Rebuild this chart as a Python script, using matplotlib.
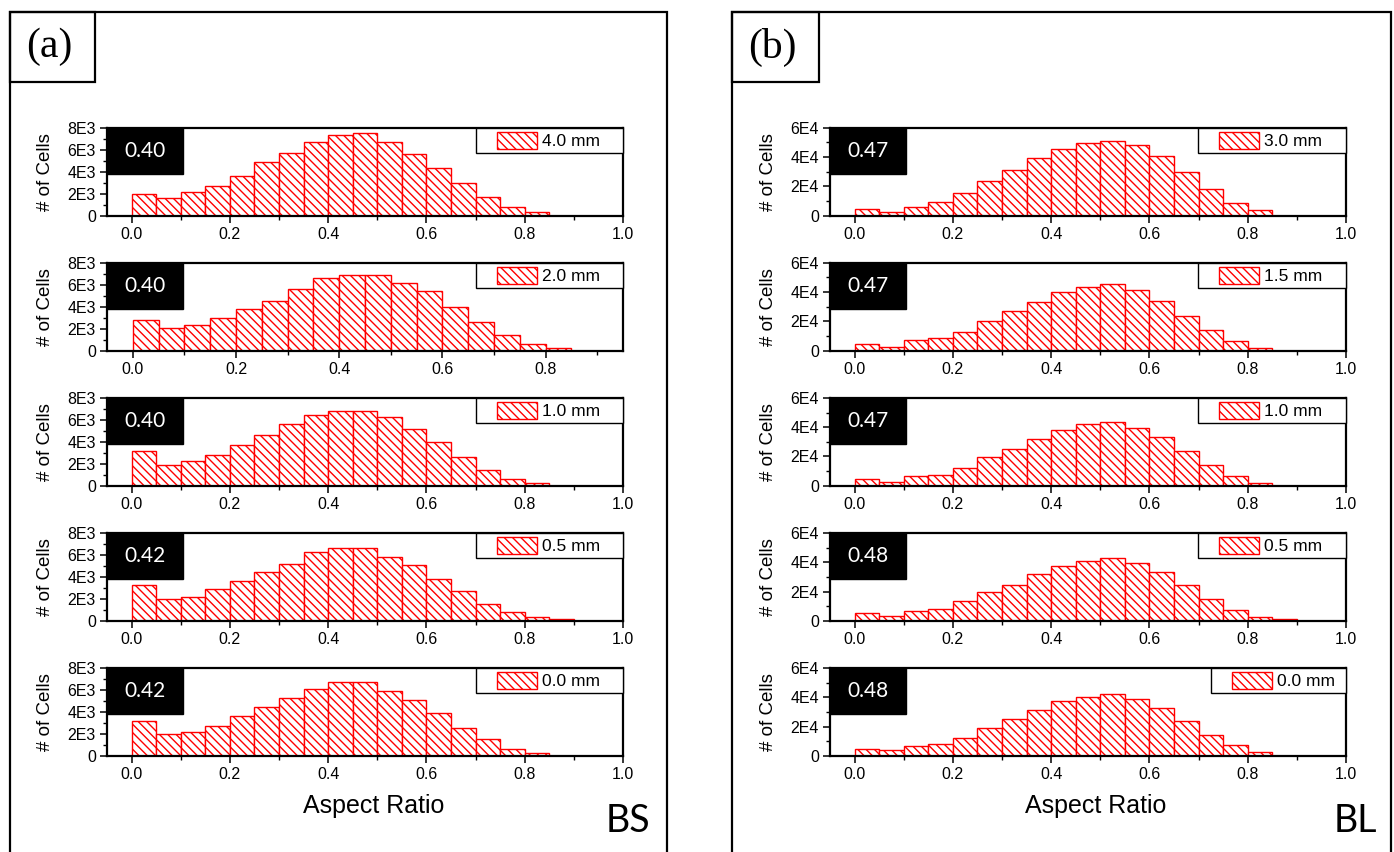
import matplotlib.pyplot as plt
import numpy as np
from matplotlib import font_manager
from matplotlib.patches import Rectangle
from matplotlib.container import BarContainer
from matplotlib.legend_handler import HandlerPatch, update_from_first_child

# bin left edges of the aspect ratio histograms (width 0.05)
bin_starts = [0.00, 0.05, 0.10, 0.15, 0.20, 0.25, 0.30, 0.35, 0.40,
              0.45, 0.50, 0.55, 0.60, 0.65, 0.70, 0.75, 0.80, 0.85]

# panel (a) BS
bs_labels = ['4.0 mm', '2.0 mm', '1.0 mm', '0.5 mm', '0.0 mm']
bs_means = ['0.40', '0.40', '0.40', '0.42', '0.42']
bs_4_0 = [1950, 1600, 2100, 2670, 3620, 4920, 5740, 6700, 7350, 7520, 6700, 5600, 4340, 3000, 1710, 750, 300]
bs_2_0 = [2760, 2080, 2330, 2980, 3810, 4560, 5610, 6570, 6910, 6910, 6140, 5400, 3940, 2640, 1460, 590, 220]
bs_1_0 = [3190, 1890, 2230, 2760, 3720, 4590, 5640, 6450, 6820, 6820, 6290, 5180, 3940, 2640, 1460, 620, 250]
bs_0_5 = [3240, 1980, 2160, 2930, 3610, 4440, 5190, 6270, 6670, 6670, 5830, 5060, 3770, 2750, 1510, 770, 340, 150]
bs_0_0 = [3160, 1960, 2180, 2700, 3680, 4420, 5280, 6130, 6750, 6750, 5890, 5060, 3870, 2580, 1530, 670, 250]
bs_yticks = [0, 2000, 4000, 6000, 8000]
bs_yticklabels = ['0', '2E3', '4E3', '6E3', '8E3']

# panel (b) BL
bl_labels = ['3.0 mm', '1.5 mm', '1.0 mm', '0.5 mm', '0.0 mm']
bl_means = ['0.47', '0.47', '0.47', '0.48', '0.48']
bl_3_0 = [4400, 2100, 6000, 9300, 15100, 23300, 30900, 39100, 45300, 49500, 51200, 48100, 40500, 29500, 18100, 8600, 3700]
bl_1_5 = [4400, 2800, 7000, 8400, 12800, 20500, 27000, 33300, 39800, 43700, 45600, 41400, 34000, 23700, 14000, 6300, 1800]
bl_1_0 = [4400, 2800, 6700, 7400, 12300, 19500, 25100, 31600, 38100, 42300, 43700, 39500, 33300, 23700, 14000, 6700, 1900]
bl_0_5 = [5100, 3500, 6900, 8300, 13200, 19400, 24800, 31700, 37300, 41200, 42600, 39800, 33300, 24300, 14800, 7400, 2500, 900]
bl_0_0 = [5000, 3700, 6600, 8200, 12100, 19200, 24900, 31100, 37500, 40400, 42600, 39100, 32700, 24000, 14400, 7300, 2500]
bl_yticks = [0, 20000, 40000, 60000]
bl_yticklabels = ['0', '2E4', '4E4', '6E4']

xticks = [0.0, 0.2, 0.4, 0.6, 0.8, 1.0]
xticklabels = ['0.0', '0.2', '0.4', '0.6', '0.8', '1.0']

W, H = 1394, 852
fig = plt.figure(figsize=(W / 100, H / 100), dpi=100)

installed = {f.name for f in font_manager.fontManager.ttflist}
tick_font = [f for f in ['Liberation Sans Narrow', 'Liberation Sans']
             if f in installed] + ['DejaVu Sans']


def px_rect(x0, y0, x1, y1):
    # pixel box (top-left origin) -> figure fraction [left, bottom, width, height]
    return [x0 / W, 1 - y1 / H, (x1 - x0) / W, (y1 - y0) / H]


def draw_hist(ax, values, label, mean, yticks, yticklabels, xmax, leg_w):
    bars = ax.bar(bin_starts[:len(values)], values, width=0.05, align='edge',
                  facecolor='white', edgecolor='red', hatch='\\\\\\\\',
                  linewidth=1.0, zorder=2)
    ax.set_xlim(-0.05, xmax)
    ax.set_ylim(0, yticks[-1])
    ax.set_yticks(yticks)
    ax.set_yticklabels(yticklabels, family=tick_font, fontsize=11.5)
    step = yticks[1] - yticks[0]
    ax.set_yticks(np.arange(step / 2, yticks[-1], step), minor=True)
    ax.set_xticks([t for t in xticks if t <= xmax + 1e-9])
    ax.set_xticklabels([l for t, l in zip(xticks, xticklabels) if t <= xmax + 1e-9],
                       family=tick_font, fontsize=11.5)
    ax.set_xticks([0.1, 0.3, 0.5, 0.7, 0.9], minor=True)
    ax.tick_params(which='major', direction='out', length=5, width=1.1, pad=3)
    ax.tick_params(which='minor', direction='out', length=3, width=1.0)
    for s in ax.spines.values():
        s.set_linewidth(1.6)
    ax.set_ylabel('# of Cells', family='Liberation Sans', fontsize=13.5)
    ax.yaxis.set_label_coords(-0.103, 0.5)

    # black box with mean aspect ratio
    ax.add_patch(Rectangle((0, 0.475), 0.1467, 0.525, transform=ax.transAxes,
                           facecolor='black', edgecolor='black', zorder=4,
                           clip_on=False))
    ax.text(0.0733, 0.735, mean, transform=ax.transAxes, ha='center',
            va='center', color='white', family='Lato', fontsize=15, zorder=5)

    leg = ax.legend([bars], [label], loc='upper right',
                    bbox_to_anchor=(1 - leg_w, 0, leg_w, 1), mode='expand',
                    borderaxespad=0, borderpad=0.22, handlelength=3.3,
                    handleheight=1.15, handletextpad=0.3, fancybox=False,
                    edgecolor='black', framealpha=1,
                    prop={'family': 'Liberation Sans', 'size': 12.5},
                    handler_map={BarContainer: HandlerPatch(
                        xpad=1.0, update_func=update_from_first_child)})
    leg.get_frame().set_linewidth(1.0)
    leg.set_zorder(5)


bs_data = [bs_4_0, bs_2_0, bs_1_0, bs_0_5, bs_0_0]
bl_data = [bl_3_0, bl_1_5, bl_1_0, bl_0_5, bl_0_0]
bs_xmax = [1.0, 0.95, 1.0, 1.0, 1.0]
bs_legw = [0.285, 0.285, 0.285, 0.285, 0.285]
bl_legw = [0.287, 0.287, 0.287, 0.287, 0.262]

top0, pitch, h = 127.7, 135.1, 87.8
for i in range(5):
    top = top0 + i * pitch
    axl = fig.add_axes(px_rect(107, top, 623, top + h))
    draw_hist(axl, bs_data[i], bs_labels[i], bs_means[i], bs_yticks,
              bs_yticklabels, bs_xmax[i], bs_legw[i])
    axr = fig.add_axes(px_rect(830, top, 1346, top + h))
    draw_hist(axr, bl_data[i], bl_labels[i], bl_means[i], bl_yticks,
              bl_yticklabels, 1.0, bl_legw[i])

# panel frames, open at the bottom edge of the picture
for x0, x1 in [(10, 667), (732, 1391)]:
    fig.add_artist(Rectangle((x0 / W, -0.05), (x1 - x0) / W, 1.05 - 12 / H,
                             transform=fig.transFigure, fill=False,
                             edgecolor='black', linewidth=1.6))

# panel letters
for x0, x1, letter in [(10, 95, '(a)'), (732, 819, '(b)')]:
    fig.add_artist(Rectangle((x0 / W, 1 - 82 / H), (x1 - x0) / W, 70 / H,
                             transform=fig.transFigure, fill=False,
                             edgecolor='black', linewidth=1.6))
    fig.text((x0 + x1) / 2 / W - 0.002, 1 - 47 / H, letter, ha='center',
             va='center', family='Liberation Serif', fontsize=30)

fig.text(374 / W, 1 - 806 / H, 'Aspect Ratio', ha='center', va='center',
         family='Liberation Sans', fontsize=18)
fig.text(1096 / W, 1 - 806 / H, 'Aspect Ratio', ha='center', va='center',
         family='Liberation Sans', fontsize=18)
fig.text(628 / W, 1 - 821 / H, 'BS', ha='center', va='center',
         family='Lato', fontsize=27)
fig.text(1355 / W, 1 - 821 / H, 'BL', ha='center', va='center',
         family='Lato', fontsize=27)

fig.savefig('out.png', dpi=100)
